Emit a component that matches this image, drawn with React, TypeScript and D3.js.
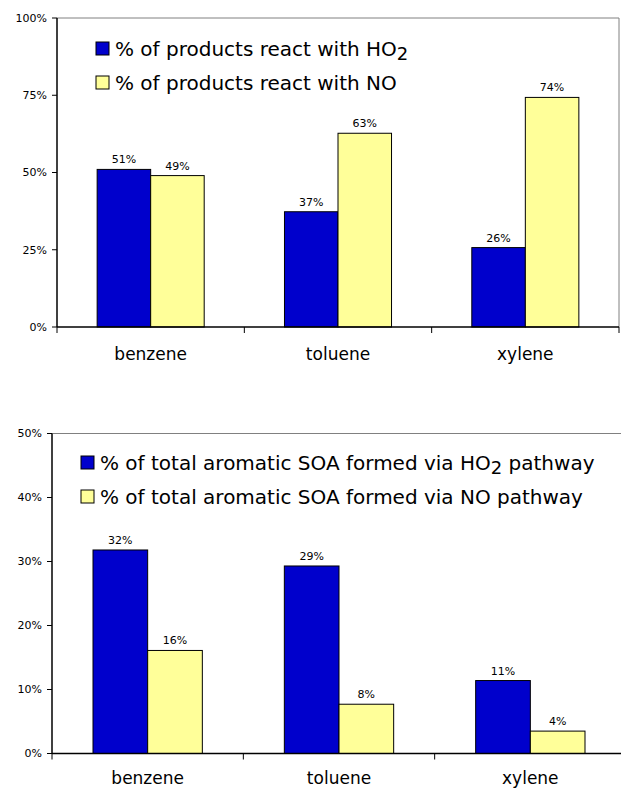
import React, { useEffect, useRef } from "react";
import * as d3 from "d3";

const categories = ["benzene", "toluene", "xylene"];

// top panel: fate of products (%)
const topHO2 = [51.0, 37.3, 25.7];
const topNO = [49.0, 62.7, 74.3];
const topLabelsHO2 = ["51%", "37%", "26%"];
const topLabelsNO = ["49%", "63%", "74%"];
const topTicks = [0, 25, 50, 75, 100];

// bottom panel: share of aromatic SOA (%)
const botHO2 = [31.8, 29.3, 11.4];
const botNO = [16.1, 7.7, 3.5];
const botLabelsHO2 = ["32%", "29%", "11%"];
const botLabelsNO = ["16%", "8%", "4%"];
const botTicks = [0, 10, 20, 30, 40, 50];

const BLUE = "#0000CC";
const YELLOW = "#FFFF99";
const FONT = "DejaVu Sans, Verdana, sans-serif";

type Panel = {
  left: number;
  right: number;
  top: number;
  bottom: number;
  yMax: number;
  ticks: number[];
  ho2: number[];
  no: number[];
  labHO2: string[];
  labNO: string[];
  legend: { x: number; y: number; pre: string; post: string; noText: string };
  catY: number;
  drawRight: boolean;
};

const drawPanel = (svg: any, p: Panel) => {
  const g = svg.append("g");

  const x0 = d3.scaleBand().domain(categories).range([p.left, p.right]).padding(0);
  const bw = x0.bandwidth();
  const groupW = (bw * 2) / 3.5; // gap width 150%
  const x1 = d3.scaleBand().domain(["ho2", "no"]).range([0, groupW]).padding(0);
  const y = d3.scaleLinear().domain([0, p.yMax]).range([p.bottom, p.top]);

  // plot area frame (gray top/right)
  g.append("line")
    .attr("x1", p.left).attr("x2", p.right)
    .attr("y1", p.top).attr("y2", p.top)
    .attr("stroke", "#808080").attr("stroke-width", 1);
  if (p.drawRight) {
    g.append("line")
      .attr("x1", p.right).attr("x2", p.right)
      .attr("y1", p.top).attr("y2", p.bottom)
      .attr("stroke", "#808080").attr("stroke-width", 1);
  }

  const rows = categories.map((c, i) => ({
    c,
    vals: [
      { k: "ho2", v: p.ho2[i], lab: p.labHO2[i], fill: BLUE },
      { k: "no", v: p.no[i], lab: p.labNO[i], fill: YELLOW },
    ],
  }));

  const groups = g
    .selectAll("g.cat")
    .data(rows)
    .join("g")
    .attr("class", "cat")
    .attr("transform", (d: any) => `translate(${x0(d.c)! + (bw - groupW) / 2},0)`);

  groups
    .selectAll("rect")
    .data((d: any) => d.vals)
    .join("rect")
    .attr("x", (d: any) => x1(d.k))
    .attr("y", (d: any) => y(d.v))
    .attr("width", x1.bandwidth())
    .attr("height", (d: any) => y(0) - y(d.v))
    .attr("fill", (d: any) => d.fill)
    .attr("stroke", "#000")
    .attr("stroke-width", 1);

  groups
    .selectAll("text")
    .data((d: any) => d.vals)
    .join("text")
    .attr("x", (d: any) => x1(d.k)! + x1.bandwidth() / 2)
    .attr("y", (d: any) => y(d.v) - 6)
    .attr("text-anchor", "middle")
    .attr("font-family", FONT)
    .attr("font-size", 11)
    .attr("fill", "#000")
    .text((d: any) => d.lab);

  // y axis
  g.append("line")
    .attr("x1", p.left).attr("x2", p.left)
    .attr("y1", p.top).attr("y2", p.bottom)
    .attr("stroke", "#000").attr("stroke-width", 1.5);
  p.ticks.forEach((t) => {
    g.append("line")
      .attr("x1", p.left - 5).attr("x2", p.left)
      .attr("y1", y(t)).attr("y2", y(t))
      .attr("stroke", "#000");
    g.append("text")
      .attr("x", p.left - 10)
      .attr("y", y(t))
      .attr("dy", "0.35em")
      .attr("text-anchor", "end")
      .attr("font-family", FONT)
      .attr("font-size", 11)
      .text(`${t}%`);
  });

  // x axis
  g.append("line")
    .attr("x1", p.left).attr("x2", p.right)
    .attr("y1", p.bottom).attr("y2", p.bottom)
    .attr("stroke", "#000").attr("stroke-width", 1.5);
  const bounds = categories.map((c) => x0(c)!).concat([p.right]);
  bounds.forEach((bx) => {
    g.append("line")
      .attr("x1", bx).attr("x2", bx)
      .attr("y1", p.bottom).attr("y2", p.bottom + 6)
      .attr("stroke", "#000");
  });
  categories.forEach((c) => {
    g.append("text")
      .attr("x", x0(c)! + bw / 2)
      .attr("y", p.catY)
      .attr("text-anchor", "middle")
      .attr("font-family", FONT)
      .attr("font-size", 17)
      .text(c);
  });

  // legend
  const L = p.legend;
  const items = [
    { fill: BLUE, sub: true },
    { fill: YELLOW, sub: false },
  ];
  items.forEach((it, i) => {
    const ly = L.y + i * 34;
    g.append("rect")
      .attr("x", L.x).attr("y", ly - 14)
      .attr("width", 13).attr("height", 13)
      .attr("fill", it.fill).attr("stroke", "#000");
    const tx = g.append("text")
      .attr("x", L.x + 19).attr("y", ly)
      .attr("font-family", FONT)
      .attr("font-size", 20);
    if (it.sub) {
      tx.append("tspan").text(L.pre + "HO");
      tx.append("tspan").attr("dy", 4).attr("font-size", 18).text("2");
      if (L.post) tx.append("tspan").attr("dy", -4).text(L.post);
    } else {
      tx.text(L.noText);
    }
  });
};

const App = () => {
  const ref = useRef<SVGSVGElement>(null);

  useEffect(() => {
    const svg = d3.select(ref.current).attr("width", 621).attr("height", 789);
    svg.selectAll("*").remove();

    drawPanel(svg, {
      left: 57, right: 619, top: 18, bottom: 327, yMax: 100,
      ticks: topTicks, ho2: topHO2, no: topNO,
      labHO2: topLabelsHO2, labNO: topLabelsNO,
      legend: { x: 96, y: 56, pre: "% of products react with ", post: "", noText: "% of products react with NO" },
      catY: 360, drawRight: true,
    });

    drawPanel(svg, {
      left: 52, right: 626, top: 433.5, bottom: 753.5, yMax: 50,
      ticks: botTicks, ho2: botHO2, no: botNO,
      labHO2: botLabelsHO2, labNO: botLabelsNO,
      legend: { x: 81, y: 470, pre: "% of total aromatic SOA formed via ", post: " pathway", noText: "% of total aromatic SOA formed via NO pathway" },
      catY: 784, drawRight: false,
    });
  }, []);

  return (
    <svg
      ref={ref}
      style={{ position: "absolute", left: 0, top: 0, background: "#fff" }}
    ></svg>
  );
};

export default App;
